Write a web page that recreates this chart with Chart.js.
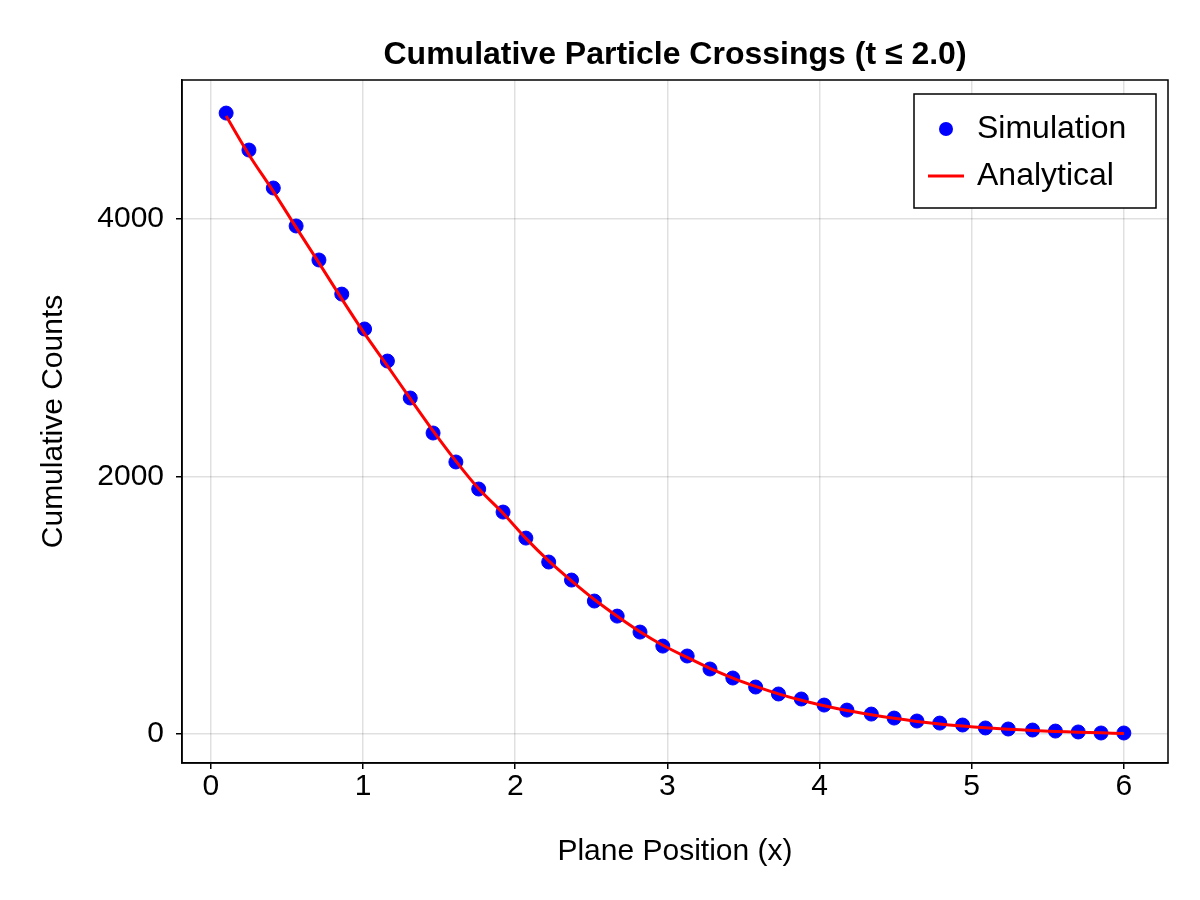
<!DOCTYPE html>
<html>
<head>
<meta charset="utf-8">
<script src="https://cdn.jsdelivr.net/npm/chart.js@4"></script>
<style>body{margin:0;background:#fff}</style>
</head>
<body>
<canvas id="c" width="1200" height="900"></canvas>
<script>
// positions of the crossing planes
const xPos = [0.10,0.25,0.41,0.56,0.71,0.86,1.01,1.16,1.31,1.46,1.61,1.76,1.92,2.07,2.22,2.37,2.52,2.67,2.82,2.97,
  3.13,3.28,3.43,3.58,3.73,3.88,4.03,4.18,4.34,4.49,4.64,4.79,4.94,5.09,5.24,5.40,5.55,5.70,5.85,6.00];
const simCounts = [4823,4536,4241,3946,3682,3417,3146,2897,2610,2338,2113,1903,1724,1522,1336,1196,1033,916,792,683,
  606,505,435,365,311,272,225,186,155,124,101,85,70,47,39,31,23,16,8,8];
const anaCounts = [4800,4500,4215,3935,3660,3380,3110,2860,2605,2355,2120,1905,1715,1520,1345,1190,1045,915,795,690,
  595,510,435,370,312,262,220,183,150,122,98,78,62,48,37,28,20,14,9,4];
const xTicks = [0,1,2,3,4,5,6];
const yTicks = [0,2000,4000];

const FONT = 'Liberation Sans, Arial, sans-serif';

const frame = {
  id: 'frame',
  afterDraw(c) {
    const a = c.chartArea, ctx = c.ctx;
    ctx.save();
    ctx.strokeStyle = '#000'; ctx.lineWidth = 1.5;
    ctx.strokeRect(a.left, a.top, a.right - a.left, a.bottom - a.top);
    // title
    ctx.fillStyle = '#000';
    ctx.font = 'bold 32px ' + FONT;
    ctx.textAlign = 'center'; ctx.textBaseline = 'middle';
    ctx.fillText('Cumulative Particle Crossings (t \u2264 2.0)', (a.left + a.right) / 2, 55);
    // legend
    ctx.fillStyle = '#fff';
    ctx.fillRect(914, 94, 242, 114);
    ctx.strokeRect(914, 94, 242, 114);
    ctx.fillStyle = 'blue';
    ctx.beginPath(); ctx.arc(946, 129, 7, 0, Math.PI * 2); ctx.fill();
    ctx.strokeStyle = 'red'; ctx.lineWidth = 3;
    ctx.beginPath(); ctx.moveTo(928, 176); ctx.lineTo(964, 176); ctx.stroke();
    ctx.fillStyle = '#000'; ctx.font = '32px ' + FONT; ctx.textAlign = 'left';
    ctx.fillText('Simulation', 977, 129);
    ctx.fillText('Analytical', 977, 176);
    ctx.restore();
  }
};

new Chart(document.getElementById('c'), {
  type: 'scatter',
  data: {
    datasets: [
      { label: 'Analytical', type: 'line', data: xPos.map((x, i) => ({ x, y: anaCounts[i] })),
        borderColor: 'red', borderWidth: 3, pointRadius: 0, tension: 0.3, order: 1 },
      { label: 'Simulation', data: xPos.map((x, i) => ({ x, y: simCounts[i] })),
        backgroundColor: 'blue', borderColor: 'blue', pointRadius: 7, order: 2 }
    ]
  },
  options: {
    responsive: false, devicePixelRatio: 1, animation: false,
    layout: { padding: { top: 80, left: 28, right: 32, bottom: 22 } },
    plugins: { legend: { display: false }, tooltip: { enabled: false } },
    scales: {
      x: {
        type: 'linear', min: -0.19, max: 6.29,
        afterBuildTicks: s => { s.ticks = xTicks.map(v => ({ value: v })); },
        afterFit: s => { s.height = 115; },
        grid: { color: 'rgba(0,0,0,0.12)', lineWidth: 1.5, tickColor: '#000', tickLength: 6 },
        border: { color: '#000', width: 1.5 },
        ticks: { color: '#000', font: { size: 30, family: FONT }, padding: 0, maxRotation: 0, callback: v => String(v) },
        title: { display: true, text: 'Plane Position (x)', color: '#000', font: { size: 30, family: FONT }, padding: { top: 4, bottom: 8 } }
      },
      y: {
        min: -225, max: 5080,
        afterBuildTicks: s => { s.ticks = yTicks.map(v => ({ value: v })); },
        afterFit: s => { s.width = 154; },
        grid: { color: 'rgba(0,0,0,0.12)', lineWidth: 1.5, tickColor: '#000', tickLength: 6 },
        border: { color: '#000', width: 1.5 },
        ticks: { color: '#000', font: { size: 30, family: FONT }, padding: 12, callback: v => String(v) },
        title: { display: true, text: 'Cumulative Counts', color: '#000', font: { size: 30, family: FONT }, padding: { top: 8, bottom: 4 } }
      }
    }
  },
  plugins: [frame]
});
</script>
</body>
</html>
